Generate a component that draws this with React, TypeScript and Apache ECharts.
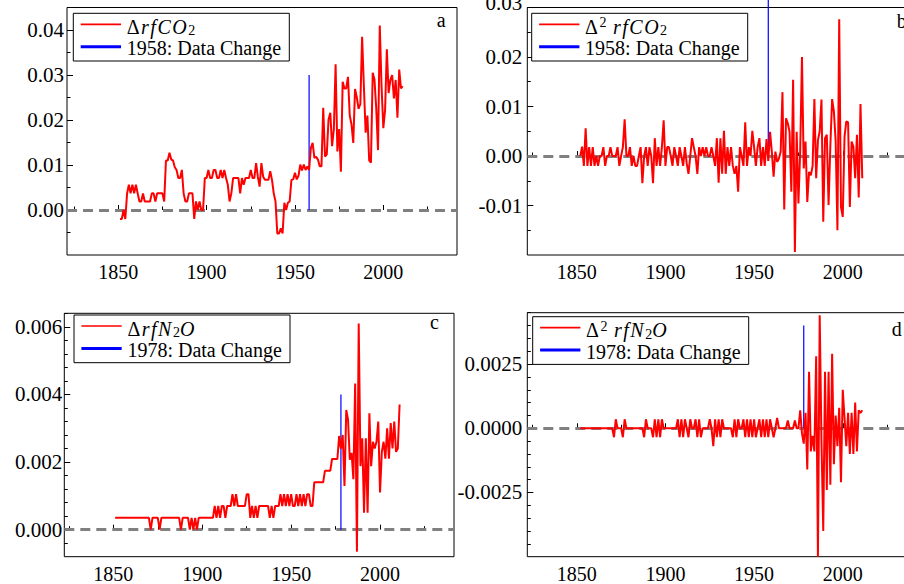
import React, { useEffect, useRef } from 'react';
import * as echarts from 'echarts';

const FONT = 'Liberation Serif';

// ---------- data ----------
const co2FirstYear = 1851;
const dRfCO2 = [
  -0.002, -0.002, 0.0, -0.002, 0.0037, 0.0056, 0.0037, 0.0056, 0.0037, 0.0056,
  0.0037, 0.0019, 0.0019, 0.0037, 0.0019, 0.0019, 0.0019, 0.0019, 0.0037, 0.0037,
  0.0019, 0.0037, 0.0037, 0.0037, 0.0037, 0.0019, 0.011, 0.011, 0.0127, 0.0112,
  0.011, 0.0095, 0.0089, 0.0071, 0.0071, 0.0089, 0.0037, 0.0019, 0.0019, 0.0037,
  0.0037, 0.0037, -0.002, 0.0019, 0.0, 0.0019, 0.0, 0.0, 0.0071, 0.0071,
  0.0089, 0.0071, 0.0071, 0.0089, 0.0089, 0.0071, 0.0071, 0.0089, 0.0071, 0.0089,
  0.0071, 0.0056, 0.0019, 0.0037, 0.0071, 0.0071, 0.0071, 0.0071, 0.0037, 0.0071,
  0.0056, 0.0071, 0.0071, 0.0071, 0.0089, 0.0071, 0.0071, 0.0104, 0.0074, 0.0052,
  0.0104, 0.0074, 0.0067, 0.0067, 0.0067, 0.0086, 0.0067, 0.0037, 0.0019, -0.0052,
  -0.0052, -0.0041, -0.0052, 0.0016, 0.0, 0.0016, 0.0019, 0.0067, 0.0068, 0.0083,
  0.0068, 0.0076, 0.0101, 0.0088, 0.0101, 0.0089, 0.0097, 0.0089, 0.0138, 0.0149,
  0.0116, 0.0118, 0.0112, 0.0097, 0.0097, 0.0227, 0.0119, 0.0123, 0.0201, 0.0216,
  0.0142, 0.0179, 0.0324, 0.013, 0.018, 0.0085, 0.0285, 0.027, 0.027, 0.0296,
  0.021, 0.019, 0.0149, 0.0269, 0.025, 0.0225, 0.0235, 0.0385, 0.0275, 0.0172,
  0.021, 0.011, 0.0105, 0.0305, 0.029, 0.0225, 0.0133, 0.041, 0.0275, 0.0182,
  0.0222, 0.0357, 0.026, 0.0289, 0.03, 0.0248, 0.0289, 0.0205, 0.0312, 0.027,
  0.0275,
];

const co2SecondFirstYear = 1852;
const d2RfCO2 = [
  0, 0.0019, -0.002, 0.0056, -0.002, 0.0018, -0.002, 0.0018, -0.002, 0,
  -0.002, 0, 0, 0.0018, -0.002, 0, 0, 0.0018, 0, 0,
  0, 0.0018, -0.002, 0, 0.0018, 0.0074, 0, 0, 0.0018, -0.002,
  0, -0.002, -0.002, 0, 0.0018, -0.0055, 0, 0.0018, -0.002, 0.0018,
  0, -0.0055, 0.0036, -0.002, 0.0018, -0.002, 0.0018, 0.0072, -0.002, 0.0018,
  0.0018, 0, -0.002, 0.0018, 0, -0.002, 0.0018, 0, -0.002, 0.0018,
  -0.0015, -0.0036, 0, 0.0036, 0.0018, 0, -0.0036, 0.0018, 0, 0.0018,
  0, 0.0018, 0, 0, 0.0018, 0, -0.002, 0.0036, -0.0054, 0.0036,
  -0.0036, 0.0051, -0.0036, 0.0018, -0.002, 0.0018, -0.002, -0.0036, -0.002, -0.0072,
  0.0018, 0, -0.002, 0.0068, -0.002, 0.0018, 0, 0.0051, 0.0018, -0.002,
  0.0018, 0.0036, -0.002, 0.0018, -0.002, 0.0034, -0.001, 0.0049, 0.0009, -0.0042,
  0.0009, -0.0012, -0.0005, 0.0009, 0.0129, -0.0108, 0.0076, 0.0066, 0.0049, -0.0072,
  0.0154, -0.0194, 0.0049, -0.0096, 0.001, 0.02, -0.0025, 0.0029, -0.0093, -0.0032,
  -0.0039, -0.002, 0.0115, -0.0045, 0.0032, 0.005, 0.0114, -0.0133, 0.0036, 0.0043,
  -0.0099, 0.002, 0.0115, 0.009, 0.003, -0.015, 0.0276, -0.0103, -0.0123, 0.0039,
  0.007, 0.0068, -0.0103, 0.0029, 0.0019, -0.0045, 0.0043, -0.0084, 0.0105, -0.0045,
];

const n2oFirstYear = 1851;
const dRfN2O = [
  0.00035, 0.00035, 0.00035, 0.00035, 0.00035, 0.00035, 0.00035, 0.00035, 0.00035, 0.00035,
  0.00035, 0.00035, 0.00035, 0.00035, 0.00035, 0.00035, 0.00035, 0.00035, 0.00035, 0.00035,
  0, 0.00035, 0.00035, 0.00035, 0.00035, 0, 0.00035, 0.00035, 0.00035, 0.00035,
  0.00035, 0.00035, 0.00035, 0.00035, 0.00035, 0.00035, 0.00035, 0, 0.00035, 0.00035,
  0.00035, 0.00035, 0, 0.00035, 0, 0.00035, 0, 0.00035, 0.00035, 0.00035,
  0.00035, 0.00035, 0.00035, 0.00035, 0.00035, 0.00035, 0.0007, 0.00035, 0.0007, 0.00035,
  0.0007, 0.0007, 0.00035, 0.0007, 0.0007, 0.0007, 0.00105, 0.0007, 0.00105, 0.0007,
  0.0007, 0.0007, 0.0007, 0.0007, 0.00105, 0.00105, 0.00035, 0.0007, 0.00035, 0.0007,
  0.00035, 0.0007, 0.0007, 0.0007, 0.0007, 0.0007, 0.0007, 0.00035, 0.0007, 0.00035,
  0.0007, 0.0007, 0.0007, 0.00105, 0.0007, 0.00105, 0.0007, 0.00105, 0.0007, 0.00105,
  0.0007, 0.0007, 0.00105, 0.0007, 0.00105, 0.0007, 0.00105, 0.0007, 0.00105, 0.00105,
  0.0007, 0.0007, 0.0014, 0.0014, 0.0014, 0.0014, 0.0014, 0.0014, 0.00174, 0.00174,
  0.00174, 0.00174, 0.00209, 0.00209, 0.00209, 0.00209, 0.00277, 0.0024, 0.0028, 0.00129,
  0.00354, 0.00325, 0.00207, 0.00227, 0.00149, 0.00432, -0.00065, 0.0061, 0.00188, 0.0027,
  0.0005, 0.0027, 0.0005, 0.00344, 0.00188, 0.0026, 0.0024, 0.0026, 0.0032, 0.0011,
  0.0023, 0.0026, 0.0021, 0.003, 0.0021, 0.00315, 0.0024, 0.0032, 0.0023, 0.0024,
  0.0037,
];

const n2oSecondFirstYear = 1852;
const d2RfN2O = [
  0, 0, 0, 0, 0, 0, 0, 0, 0, 0,
  0, 0, 0, 0, 0, 0, 0, 0, 0, -0.00035,
  0.00035, 0, 0, 0, -0.00035, 0.00035, 0, 0, 0, 0,
  0, 0, 0, 0, 0, 0, -0.00035, 0.00035, 0, 0,
  0, -0.00035, 0.00035, -0.00035, 0.00035, -0.00035, 0.00035, 0, 0, 0,
  0, 0, 0, 0, 0, 0.00035, -0.00035, 0.00035, -0.00035, 0.00035,
  0, -0.00035, 0.00035, 0, 0, 0.00035, -0.00035, 0.00035, -0.00035, 0,
  0, 0, 0, 0.00035, 0, -0.0007, 0.00035, -0.00035, 0.00035, -0.00035,
  0.00035, 0, 0, 0, 0, 0, -0.00035, 0.00035, -0.00035, 0.00035,
  0, 0, 0.00035, -0.00035, 0.00035, -0.00035, 0.00035, -0.00035, 0.00035, -0.00035,
  0, 0.00035, -0.00035, 0.00035, -0.00035, 0.00035, -0.00035, 0.00035, 0, -0.00035,
  0, 0.0004, 0, 0, 0, 0, 0, 0.0003, 0, 0,
  0, 0.0003, 0, 0, 0.0007, -0.0002, -0.0006, 0.0006, -0.0016, 0.0022,
  -0.0009, -0.0003, -0.0009, 0.0028, -0.005, 0.0044, -0.0005, -0.004, 0.0022, -0.0024,
  0.0022, -0.0022, 0.0029, -0.0014, 0.0005, -0.0007, 0.0008, -0.0021, 0.0015, 0.0004,
  -0.0007, 0.0006, -0.001, 0.0006, -0.001, 0.001, -0.0009, 0.0007, 0.0006, 0.0007,
];

const co2ChangeYear = 1958;
const n2oChangeYear = 1978;
const co2ChangeTopA = 0.03;
const co2ChangeTopB = 0.0316;
const n2oChangeTop = 0.004;

const xLabelYears = [1850, 1900, 1950, 2000];
const xMinorYears = [1825, 1875, 1925, 1975, 2025];

const yLabelsA = [0, 0.01, 0.02, 0.03, 0.04];
const yMinorA = [-0.005, 0.005, 0.015, 0.025, 0.035, 0.045];
const yLabelsB = [-0.01, 0, 0.01, 0.02, 0.03];
const yMinorB = [-0.015, -0.005, 0.005, 0.015, 0.025];
const yLabelsC = [0, 0.002, 0.004, 0.006];
const yMinorC = [-0.0004, 0.0004, 0.0008, 0.0012, 0.0016, 0.0024, 0.0028, 0.0032, 0.0036, 0.0044, 0.0048, 0.0052, 0.0056, 0.0064];
const yLabelsD = [-0.0025, 0, 0.0025];
const yMinorD = [-0.0045, -0.004, -0.0035, -0.003, -0.002, -0.0015, -0.001, -0.0005, 0.0005, 0.001, 0.0015, 0.002, 0.003, 0.0035, 0.004, 0.0045];

// ---------- panel layout ----------
type Panel = {
  grid: { left: number; top: number; width: number; height: number };
  xRange: [number, number];
  yRange: [number, number];
  decimals: number;
  yLabels: number[];
  yMinor: number[];
  labelMargin: number;
  raiseTopLabel: boolean;
  values: number[];
  firstYear: number;
  seriesName: string;
  richName: string;
  changeYear: number;
  changeTop: number;
  clipChange: boolean;
  legendPos: [number, number];
  letter: string;
  letterPos: [number, number];
};

const panels: Panel[] = [
  {
    grid: { left: 67, top: 7.5, width: 390, height: 247.5 },
    xRange: [1821, 2041.7], yRange: [-0.01, 0.045], decimals: 2,
    yLabels: yLabelsA, yMinor: yMinorA, labelMargin: 3, raiseTopLabel: false,
    values: dRfCO2, firstYear: co2FirstYear,
    seriesName: 'ΔrfCO2',
    richName: '{u|Δ}{i|r}{i|f}{i|C}{i|O}{s|2}',
    changeYear: co2ChangeYear, changeTop: co2ChangeTopA, clipChange: true,
    legendPos: [73.3, 13.3], letter: 'a', letterPos: [436.7, 19.5],
  },
  {
    grid: { left: 527.3, top: 7.5, width: 389.4, height: 247.5 },
    xRange: [1822.1, 2041.7], yRange: [-0.02, 0.03], decimals: 2,
    yLabels: yLabelsB, yMinor: yMinorB, labelMargin: 5, raiseTopLabel: true,
    values: d2RfCO2, firstYear: co2SecondFirstYear,
    seriesName: 'Δ2rfCO2',
    richName: '{u|Δ}{p|2}{u| }{i|r}{i|f}{i|C}{i|O}{s|2}',
    changeYear: co2ChangeYear, changeTop: co2ChangeTopB, clipChange: false,
    legendPos: [531.7, 13.3], letter: 'b', letterPos: [896.7, 21],
  },
  {
    grid: { left: 64.3, top: 313.3, width: 389.7, height: 243.4 },
    xRange: [1822.4, 2041.6], yRange: [-0.0008, 0.0064], decimals: 3,
    yLabels: yLabelsC, yMinor: yMinorC, labelMargin: 2, raiseTopLabel: false,
    values: dRfN2O, firstYear: n2oFirstYear,
    seriesName: 'ΔrfN2O',
    richName: '{u|Δ}{i|r}{i|f}{i|N}{s|2}{i|O}',
    changeYear: n2oChangeYear, changeTop: n2oChangeTop, clipChange: true,
    legendPos: [74, 315], letter: 'c', letterPos: [430, 321.5],
  },
  {
    grid: { left: 527.3, top: 312.7, width: 389.4, height: 244 },
    xRange: [1822.1, 2041.7], yRange: [-0.005, 0.0045], decimals: 4,
    yLabels: yLabelsD, yMinor: yMinorD, labelMargin: 5, raiseTopLabel: false,
    values: d2RfN2O, firstYear: n2oSecondFirstYear,
    seriesName: 'Δ2rfN2O',
    richName: '{u|Δ}{p|2}{u| }{i|r}{i|f}{i|N}{s|2}{i|O}',
    changeYear: n2oChangeYear, changeTop: n2oChangeTop, clipChange: true,
    legendPos: [532.7, 316.7], letter: 'd', letterPos: [891.7, 329],
  },
];

const richStyles = {
  u: { fontSize: 20, fontFamily: FONT, fill: '#000', lineHeight: 22, padding: [0, 1.5, 0, 0] },
  i: { fontSize: 20, fontFamily: FONT, fontStyle: 'italic', fill: '#000', lineHeight: 22, padding: [0, 1.5, 0, 0] },
  s: { fontSize: 14, fontFamily: FONT, fill: '#000', lineHeight: 5, verticalAlign: 'bottom' },
  p: { fontSize: 14, fontFamily: FONT, fill: '#000', lineHeight: 15, verticalAlign: 'top' },
};

function buildOption() {
  const grid: any[] = [];
  const xAxis: any[] = [];
  const yAxis: any[] = [];
  const series: any[] = [];
  const graphic: any[] = [];

  panels.forEach((p, gi) => {
    grid.push({
      ...p.grid,
      show: true,
      borderColor: '#000',
      borderWidth: 1,
      backgroundColor: '#fff',
      containLabel: false,
      outerBoundsMode: 'none',
    });
    const xBase = {
      gridIndex: gi, type: 'value', position: 'bottom',
      min: p.xRange[0], max: p.xRange[1],
      axisLine: { show: false }, splitLine: { show: false },
    };
    xAxis.push({
      ...xBase,
      axisTick: { show: true, inside: true, length: 5, customValues: xLabelYears, lineStyle: { color: '#000', width: 1 } },
      axisLabel: {
        show: true, customValues: xLabelYears, fontSize: 20, fontFamily: FONT, color: '#000', margin: 7,
        formatter: (v: number) => String(Math.round(v)),
      },
    });
    xAxis.push({
      ...xBase,
      axisTick: { show: true, inside: true, length: 3.5, customValues: xMinorYears, lineStyle: { color: '#000', width: 1 } },
      axisLabel: { show: false },
    });
    const yBase = {
      gridIndex: gi, type: 'value', position: 'left',
      min: p.yRange[0], max: p.yRange[1],
      axisLine: { show: false }, splitLine: { show: false },
    };
    const topLabel = p.yLabels[p.yLabels.length - 1];
    yAxis.push({
      ...yBase,
      axisTick: { show: true, inside: true, length: 6, customValues: p.yLabels, lineStyle: { color: '#000', width: 1 } },
      axisLabel: {
        show: true, customValues: p.yLabels, fontSize: 21, fontFamily: FONT, color: '#000', margin: p.labelMargin,
        formatter: (v: number) => {
          const s = v.toFixed(p.decimals);
          return p.raiseTopLabel && Math.abs(v - topLabel) < 1e-9 ? `{t|${s}}` : s;
        },
        rich: { t: { fontSize: 21, fontFamily: FONT, color: '#000', padding: [0, 0, 10, 0] } },
      },
    });
    yAxis.push({
      ...yBase,
      axisTick: { show: true, inside: true, length: 3.5, customValues: p.yMinor, lineStyle: { color: '#000', width: 1 } },
      axisLabel: { show: false },
    });

    const xi = gi * 2;
    const yi = gi * 2;
    const changeLabel = `${p.changeYear}: Data Change`;

    series.push({
      name: changeLabel,
      type: 'line',
      xAxisIndex: xi, yAxisIndex: yi,
      data: [[p.changeYear, 0], [p.changeYear, p.changeTop]],
      showSymbol: false, symbol: 'none',
      lineStyle: { color: '#0000ff', width: 1.2 },
      z: 6, silent: true, clip: p.clipChange,
      markLine: {
        silent: true,
        symbol: ['none', 'none'],
        label: { show: false },
        lineStyle: { color: '#808080', width: 3, type: [10, 6] },
        emphasis: { disabled: true },
        data: [{ yAxis: 0 }],
      },
    });
    series.push({
      name: p.seriesName,
      type: 'line',
      xAxisIndex: xi, yAxisIndex: yi,
      data: p.values.map((v, i) => [p.firstYear + i, v]),
      showSymbol: false, symbol: 'none',
      lineStyle: { color: '#ff0000', width: 2 },
      z: 10, silent: true, clip: true,
    });

    const [lx, ly] = p.legendPos;
    graphic.push({
      type: 'group', x: lx, y: ly, z: 50,
      children: [
        { type: 'rect', shape: { x: 0, y: 0, width: 216, height: 47.7 }, style: { fill: '#fff', stroke: '#000', lineWidth: 1 }, z: 50 },
        { type: 'line', shape: { x1: 7.4, y1: 11, x2: 47.7, y2: 11 }, style: { stroke: '#ff0000', lineWidth: 1.7 }, z: 51 },
        { type: 'line', shape: { x1: 7.4, y1: 33.4, x2: 47.7, y2: 33.4 }, style: { stroke: '#0000ff', lineWidth: 3 }, z: 51 },
        {
          type: 'text', x: 53.4, y: 13.5, z: 51,
          style: { text: p.richName, rich: richStyles, fontSize: 20, fontFamily: FONT, fill: '#000', verticalAlign: 'middle', align: 'left' },
        },
        {
          type: 'text', x: 53.4, y: 35, z: 51,
          style: { text: changeLabel, fontSize: 20, fontFamily: FONT, fill: '#000', verticalAlign: 'middle', align: 'left' },
        },
      ],
    });
    graphic.push({
      type: 'text', x: p.letterPos[0], y: p.letterPos[1], z: 50,
      style: { text: p.letter, fontSize: 20, fontFamily: FONT, fill: '#000', verticalAlign: 'middle', align: 'left' },
    });
  });

  return {
    animation: false,
    backgroundColor: '#fff',
    textStyle: { fontFamily: FONT },
    grid, xAxis, yAxis, series, graphic,
  };
}

export default function App() {
  const ref = useRef<HTMLDivElement>(null);
  useEffect(() => {
    if (!ref.current) return;
    const chart = echarts.init(ref.current, null, { renderer: 'svg' });
    chart.setOption(buildOption() as any);
    return () => chart.dispose();
  }, []);
  return (
    <div
      ref={ref}
      style={{ position: 'absolute', left: 0, top: 0, width: 904, height: 584, background: '#fff' }}
    />
  );
}
